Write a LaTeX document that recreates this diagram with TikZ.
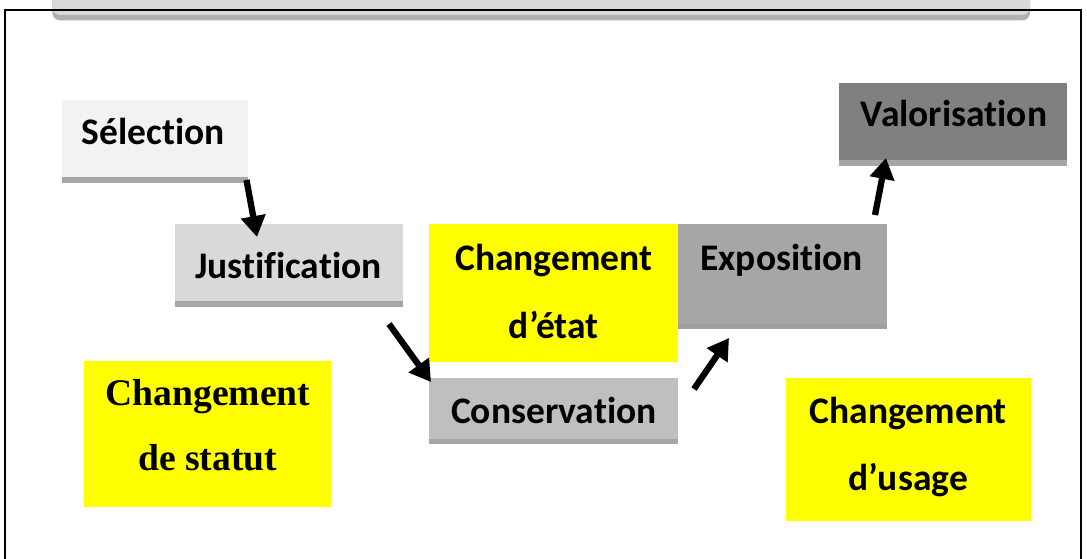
\documentclass[tikz,border=0pt]{standalone}
\usepackage{fontspec}
\setmainfont{Carlito}[Ligatures=NoCommon]
\newfontfamily\serifbold{Liberation Serif}[Ligatures=NoCommon]
\usetikzlibrary{arrows.meta}
\definecolor{gA}{HTML}{F2F2F2}
\definecolor{gB}{HTML}{D9D9D9}
\definecolor{gC}{HTML}{BFBFBF}
\definecolor{gD}{HTML}{A6A6A6}
\definecolor{gE}{HTML}{808080}
\definecolor{gStrip}{HTML}{A6A6A6}
\definecolor{gStripD}{HTML}{A0A0A0}
\definecolor{gShadow}{HTML}{B0B0B0}
\definecolor{yel}{HTML}{FFFF00}
\tikzset{
  box/.style={rectangle, draw=none, inner sep=0pt, outer sep=0pt},
  txt/.style={anchor=base, inner sep=0pt, font=\fontsize{37.5}{40}\selectfont\bfseries},
  stxt/.style={anchor=base, inner sep=0pt, font=\fontsize{37.6}{40}\selectfont\serifbold\bfseries},
  arr/.style={line width=6.3pt, -{Triangle[width=24pt,length=21pt]}},
  strip/.style={fill=gStrip}
}
\begin{document}
\begin{tikzpicture}[x=1pt,y=-1pt]
\clip (0,0) rectangle (1087,559);
% banner
\fill[gShadow, rounded corners=8pt] (52.3,-30) rectangle (1030,20.5);
\fill[gB, rounded corners=8pt] (52.3,-30) rectangle (1030,15);
% frame
\draw[line width=1.6pt] (5,600) -- (5,10) -- (1081,10) -- (1081,600);

% boxes
\node[box, fill=gA, minimum width=186pt, minimum height=77pt] (sel) at (154.7,138.5) {};
\fill[strip] (sel.south west) rectangle ([yshift=-5.7pt]sel.south east);
\node[box, fill=gB, minimum width=228.3pt, minimum height=76.4pt] (jus) at (289.2,262.5) {};
\fill[strip] (jus.south west) rectangle ([yshift=-6pt]jus.south east);
\node[box, fill=yel, minimum width=248.4pt, minimum height=137.7pt] (etat) at (553.5,292.9) {};
\node[box, fill=gD, minimum width=209pt, minimum height=100pt] (expo) at (782.2,274) {};
\fill[gStripD] (expo.south west) rectangle ([yshift=-5.3pt]expo.south east);
\node[box, fill=gC, minimum width=248.4pt, minimum height=61pt] (cons) at (553.5,408.8) {};
\fill[strip] (cons.south west) rectangle ([yshift=-5pt]cons.south east);
\node[box, fill=gE, minimum width=228.3pt, minimum height=76.7pt] (val) at (953.2,121.7) {};
\fill[strip] (val.south west) rectangle ([yshift=-5.7pt]val.south east);
\node[box, fill=yel, minimum width=247pt, minimum height=145.7pt] (statut) at (207.5,433.8) {};
\node[box, fill=yel, minimum width=245pt, minimum height=143.3pt] (usage) at (908.5,449.3) {};

% texts
\node[txt] (tsel) at (153.2,145) {Sélection};
\node[txt] (tjus) at (288.3,278) {Justification};
\node[txt] (tetat1) at (553.8,270.7) {Changement};
\node[txt] (tetat2) at (553.8,338) {d’état};
\node[txt] (texpo) at (781.7,270.7) {Exposition};
\node[txt] (tcons) at (553.8,423.3) {Conservation};
\node[txt] (tval) at (954,126.7) {Valorisation};
\node[stxt] (tstat1) at (207.8,405) {Changement};
\node[stxt] (tstat2) at (207.8,470) {de statut};
\node[txt] (tus1) at (908.3,423.3) {Changement};
\node[txt] (tus2) at (908.3,490) {d’usage};

% arrows
\coordinate (a1s) at (246.5,180);
\coordinate (a1e) at (257,237);
\coordinate (a2s) at (389,324);
\coordinate (a2e) at (431,382);
\coordinate (a3s) at (694,389);
\coordinate (a3e) at (729,338);
\coordinate (a4s) at (875,215);
\coordinate (a4e) at (886,158);
\draw[arr] (a1s) -- (a1e);
\draw[arr] (a2s) -- (a2e);
\draw[arr] (a3s) -- (a3e);
\draw[arr] (a4s) -- (a4e);
\end{tikzpicture}
\end{document}
